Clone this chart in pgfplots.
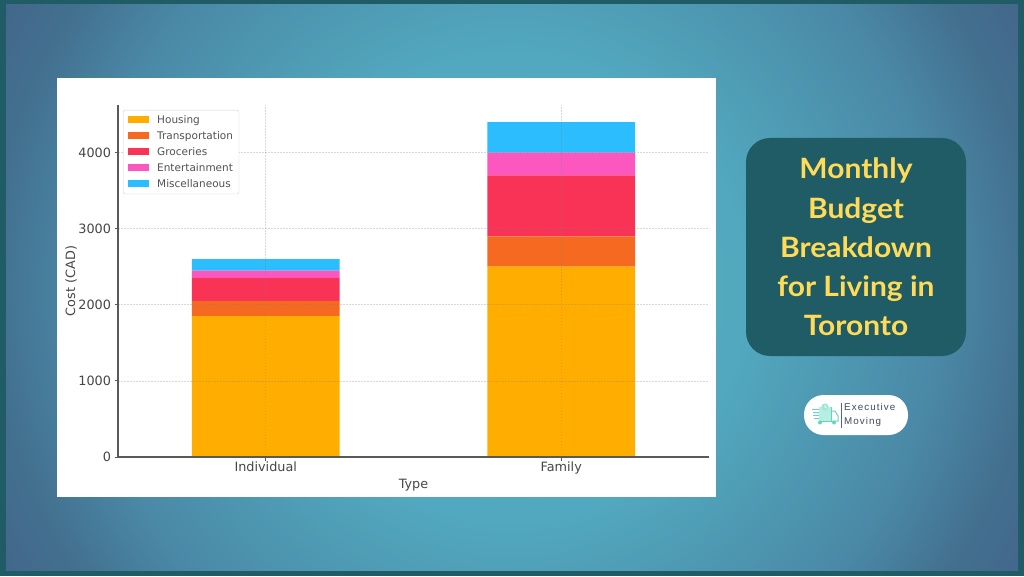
\documentclass[border=0pt]{standalone}
\usepackage{pgfplots}
\pgfplotsset{compat=1.18}
\usepackage{fontspec}
\setmainfont{DejaVu Sans}
\newfontfamily\titlefont{Lato}[BoldFont={Lato Bold},FakeStretch=1.07]
\newfontfamily\logofont{Liberation Sans}[LetterSpace=11]
\definecolor{frame}{HTML}{1F5C65}
\definecolor{bga}{HTML}{55B0C4}
\definecolor{bgb}{HTML}{52A9BF}
\definecolor{bgc}{HTML}{4A88A6}
\definecolor{bgd}{HTML}{43708F}
\definecolor{bge}{HTML}{426088}
\definecolor{cHousing}{HTML}{FFAE00}
\definecolor{cTrans}{HTML}{F56A20}
\definecolor{cGroc}{HTML}{F83356}
\definecolor{cEnt}{HTML}{FB57BE}
\definecolor{cMisc}{HTML}{2BBDFE}
\definecolor{titley}{HTML}{FFDB58}
\definecolor{truck}{HTML}{5FD8C0}
\definecolor{logotxt}{HTML}{3F4A5E}
\pgfdeclareradialshading{bgshade}{\pgfpoint{0bp}{0bp}}{%
 color(0bp)=(bga); color(9.5bp)=(bgb); color(18bp)=(bgc); color(21.6bp)=(bgd); color(26bp)=(bge); color(100bp)=(bge)}
\pgfplotstableread{
x Housing Trans Groc Ent Misc
0 1850 200 300 100 150
1 2500 400 800 300 400
}\budget
\begin{document}
\begin{tikzpicture}[x=1pt,y=1pt]
\fill[frame] (0,0) rectangle (1024,576);
\begin{scope}
\clip (6,5.5) rectangle (1018,571);
\shade[shading=bgshade] (-88,-312) rectangle (1112,888);
\end{scope}
\fill[white] (57,79) rectangle (716,498);
\begin{axis}[
  at={(118pt,119pt)}, anchor=south west,
  scale only axis, width=591pt, height=352pt,
  ybar stacked, bar width=0.5,
  xmin=-0.5, xmax=1.5, ymin=0, ymax=4625,
  xtick={0,1}, xticklabels={Individual,Family},
  ytick={0,1000,2000,3000,4000},
  scaled y ticks=false,
  /pgf/number format/assume math mode=true,
  /pgf/number format/1000 sep={},
  axis lines=left,
  axis line style={-, color=black!65, line width=1.2pt},
  tick style={color=black!65, line width=0.8pt},
  tick align=outside, major tick length=3.5pt,
  tick label style={font=\fontsize{12.8}{15}\selectfont, color=black!72},
  label style={font=\fontsize{12.8}{15}\selectfont, color=black!72},
  xlabel={Type}, ylabel={Cost (CAD)},
  xlabel style={at={(axis description cs:0.5,0)}, anchor=center, yshift=-28pt},
  ylabel style={at={(axis description cs:0,0.5)}, anchor=center, yshift=47pt},
  xticklabel style={yshift=2pt},
  grid=major,
  grid style={dash pattern=on 1.5pt off 1.5pt, line width=0.6pt, color=gray, opacity=0.3},
  axis on top,
  legend cell align=left,
  legend style={
    at={(5pt,347pt)}, anchor=north west,
    font=\fontsize{10.5}{12}\selectfont, text=black!68,
    draw=black!18, rounded corners=2pt, fill=white,
    inner xsep=4pt, inner ysep=3.2pt,
    row sep=2.5pt,
  },
  legend image code/.code={\fill[#1, sharp corners] (1pt,-3pt) rectangle (22pt,4pt); \path (0pt,0pt) (28pt,0pt);},
]
\addplot[fill=cHousing, draw=none] table[x=x,y=Housing] {\budget};
\addplot[fill=cTrans, draw=none] table[x=x,y=Trans] {\budget};
\addplot[fill=cGroc, draw=none] table[x=x,y=Groc] {\budget};
\addplot[fill=cEnt, draw=none] table[x=x,y=Ent] {\budget};
\addplot[fill=cMisc, draw=none] table[x=x,y=Misc] {\budget};
\legend{Housing,Transportation,Groceries,Entertainment,Miscellaneous}
\end{axis}
% title card
\fill[frame, rounded corners=24pt] (746,220) rectangle (966,438);
\node[align=center, text=titley, font=\titlefont\bfseries\fontsize{28}{39.2}\selectfont] at (856,329)
  {Monthly\\Budget\\Breakdown\\for Living in\\Toronto};
% logo
\fill[white, rounded corners=19.5pt] (804,141) rectangle (908,181);
\draw[logotxt!85, line width=1pt] (841,148) -- (841,173);
\node[anchor=west, align=left, text=logotxt, inner sep=0pt, font=\logofont\fontsize{9.8}{13.6}\selectfont] at (844,161)
  {Executive\\Moving};
% logo icon
\fill[truck!45] (819,155) rectangle (831,169);
\draw[truck, line width=1pt] (819,155) -- (831,155) -- (831,169);
\draw[truck, line width=1pt] (831,155) -- (838,155) -- (838,160) -- (835,165) -- (831,165);
\draw[truck, line width=0.8pt] (812,167) -- (819,167) (812.5,164) -- (819,164) (813,161) -- (819,161) (813.5,158) -- (819,158);
\fill[truck] (820,153.5) circle (2pt) (834,153.5) circle (2pt);
\fill[truck!60] (825,169) circle (3.6pt);
\draw[white, line width=0.6pt] (825,171) -- (825,169) -- (826.5,168);
\end{tikzpicture}
\end{document}
